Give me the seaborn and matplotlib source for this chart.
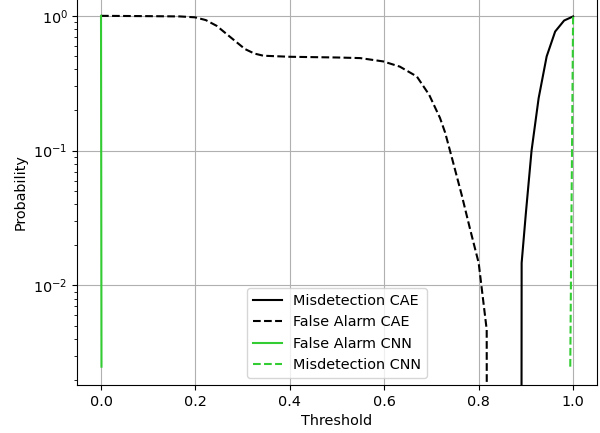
import matplotlib
matplotlib.use("Agg")
import matplotlib.pyplot as plt
import seaborn as sns

# thresholds / probabilities (1e-6 = dropped to zero, below axis)
md_cae_x = [0.890, 0.891, 0.900, 0.912, 0.927, 0.944, 0.962, 0.981, 1.0]
md_cae_y = [1e-6, 0.0147, 0.0345, 0.10, 0.245, 0.50, 0.765, 0.923, 0.99]

fa_cae_x = [0.0, 0.10, 0.167, 0.199, 0.222, 0.245, 0.273, 0.305, 0.325, 0.344, 0.40, 0.45,
            0.50, 0.549, 0.598, 0.633, 0.669, 0.695, 0.718, 0.729, 0.745, 0.764, 0.782,
            0.80, 0.817, 0.818]
fa_cae_y = [1.0, 0.995, 0.99, 0.975, 0.93, 0.843, 0.70, 0.567, 0.525, 0.506, 0.497, 0.494,
            0.491, 0.486, 0.459, 0.42, 0.355, 0.26, 0.175, 0.136, 0.084, 0.047, 0.026,
            0.0147, 0.0047, 1e-6]

fa_cnn_x = [0.0, 0.001]
fa_cnn_y = [1.0, 0.0025]

md_cnn_x = [0.994, 1.0]
md_cnn_y = [0.0025, 1.0]

green = "#33cc33"

plt.rcParams["font.size"] = 10.4

fig = plt.figure(figsize=(6, 4.33), dpi=100)
ax = fig.add_axes([0.129, 0.111, 0.8655, 0.893])

sns.lineplot(x=md_cae_x, y=md_cae_y, ax=ax, color="black", linestyle="-",
             label="Misdetection CAE", sort=False, estimator=None, lw=1.5)
sns.lineplot(x=fa_cae_x, y=fa_cae_y, ax=ax, color="black", linestyle="--",
             label="False Alarm CAE", sort=False, estimator=None, lw=1.5)
sns.lineplot(x=fa_cnn_x, y=fa_cnn_y, ax=ax, color=green, linestyle="-",
             label="False Alarm CNN", sort=False, estimator=None, lw=1.5)
sns.lineplot(x=md_cnn_x, y=md_cnn_y, ax=ax, color=green, linestyle="--",
             label="Misdetection CNN", sort=False, estimator=None, lw=1.5)

ax.set_yscale("log")
ax.set_xlim(-0.05, 1.05)
ax.set_ylim(0.00183, 1.35)
ax.grid(True, which="major", color="#b0b0b0", lw=0.8)
ax.set_xlabel("Threshold")
ax.set_ylabel("Probability")
ax.legend(loc="lower center")

fig.savefig("out.png", dpi=100)
